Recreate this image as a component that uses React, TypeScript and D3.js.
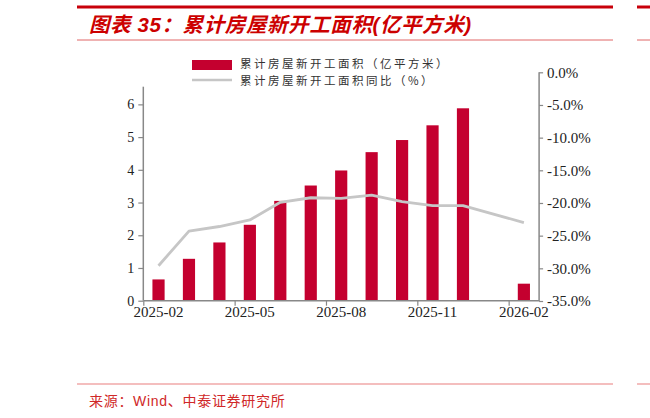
import { useEffect, useRef } from 'react';
import * as d3 from 'd3';

// ─── Data ───────────────────────────────────────────────────

const months = [
  '2025-02', '2025-03', '2025-04', '2025-05', '2025-06', '2025-07', '2025-08',
  '2025-09', '2025-10', '2025-11', '2025-12', '2026-01', '2026-02',
];
// 累计房屋新开工面积（亿平方米）
const areaValues: (number | null)[] = [0.65, 1.28, 1.78, 2.32, 3.05, 3.52, 3.98, 4.54, 4.91, 5.36, 5.88, null, 0.52];
// 累计房屋新开工面积同比（%）
const yoyValues: (number | null)[] = [-29.6, -24.3, -23.6, -22.6, -19.9, -19.2, -19.3, -18.8, -19.8, -20.4, -20.4, null, -23.0];

const leftTicks = [0, 1, 2, 3, 4, 5, 6];
const rightTicks = [0, -5, -10, -15, -20, -25, -30, -35];
const xTickMonths = ['2025-02', '2025-05', '2025-08', '2025-11', '2026-02'];

const TITLE = '图表 35：累计房屋新开工面积(亿平方米)';
const LEGEND_BAR = '累计房屋新开工面积（亿平方米）';
const LEGEND_LINE = '累计房屋新开工面积同比（%）';
const SOURCE = '来源：Wind、中泰证券研究所';

// ─── Component ──────────────────────────────────────────────

const W = 650;
const H = 418;
const RED = '#c4002f';
const GRAY_LINE = '#c6c6c6';
const AXIS = '#888888';
const SERIF = '"Liberation Serif", "Times New Roman", serif';
const CJK = '"Noto Sans CJK SC", sans-serif';

export default function App() {
  const svgRef = useRef<SVGSVGElement>(null);

  useEffect(() => {
    if (!svgRef.current) return;
    const svg = d3.select(svgRef.current);
    svg.selectAll('*').remove();

    const plot = { left: 143.3, right: 539.1, bottom: 300.7 };

    // Scales
    const x = d3.scaleBand<string>()
      .domain(months)
      .range([plot.left, plot.right])
      .paddingInner(0.6)
      .paddingOuter(0.3);
    const xEdge = d3.scaleLinear().domain([0, months.length]).range([plot.left, plot.right]);
    const yL = d3.scaleLinear().domain([0, 6.54]).range([plot.bottom, 86.7]);
    const yR = d3.scaleLinear().domain([-35, 0]).range([301, 72.3]);

    // Header / footer rules (incl. the clipped edge of the next panel)
    const rules = [
      { x1: 77, x2: 613, y: 7, c: '#c8000a', w: 3 },
      { x1: 77, x2: 613, y: 40, c: '#e06666', w: 1 },
      { x1: 637, x2: W, y: 7, c: '#c8000a', w: 3 },
      { x1: 637, x2: W, y: 40, c: '#e06666', w: 1 },
      { x1: 77, x2: 613, y: 384, c: '#f0a8a8', w: 1.5 },
      { x1: 637, x2: W, y: 384, c: '#f0a8a8', w: 1.5 },
    ];
    rules.forEach((r) => {
      svg.append('line').attr('x1', r.x1).attr('x2', r.x2).attr('y1', r.y).attr('y2', r.y)
        .attr('stroke', r.c).attr('stroke-width', r.w);
    });

    // Title
    svg.append('text')
      .attr('x', 89).attr('y', 31.5)
      .style('font-family', `"Liberation Sans", ${CJK}`)
      .style('font-size', '20.5px').style('font-weight', 700).style('font-style', 'italic')
      .style('letter-spacing', '0.6px')
      .style('fill', '#cc0000')
      .text(TITLE);

    // Source
    svg.append('text')
      .attr('x', 89).attr('y', 405.5)
      .style('font-family', `"Liberation Sans", ${CJK}`)
      .style('font-size', '14px')
      .style('letter-spacing', '0.7px')
      .style('fill', '#d02828')
      .text(SOURCE);

    // Legend
    svg.append('rect').attr('x', 192).attr('y', 60).attr('width', 40).attr('height', 10).attr('fill', RED);
    svg.append('line').attr('x1', 192).attr('x2', 232).attr('y1', 80).attr('y2', 80)
      .attr('stroke', GRAY_LINE).attr('stroke-width', 2.5);
    [LEGEND_BAR, LEGEND_LINE].forEach((t, i) => {
      svg.append('text')
        .attr('x', 240).attr('y', 64 + i * 17).attr('dy', '0.36em')
        .style('font-family', CJK).style('font-size', '11.5px').style('fill', '#333')
        .style('letter-spacing', '2.5px')
        .text(t);
    });

    // Left axis
    const gL = svg.append('g').attr('transform', `translate(${plot.left},0)`)
      .call(d3.axisLeft(yL).tickValues(leftTicks).tickSize(5).tickPadding(4).tickFormat(d3.format('d')));
    gL.select('.domain').attr('stroke', AXIS).attr('stroke-width', 1.5).attr('d', `M0,${yL(6.54)}V${plot.bottom}`);
    gL.selectAll('.tick line').attr('stroke', AXIS).attr('stroke-width', 1.2);
    gL.selectAll('.tick text').style('font-family', SERIF).style('font-size', '14px').style('fill', '#222');

    // Right axis
    const gR = svg.append('g').attr('transform', `translate(${plot.right},0)`)
      .call(d3.axisRight(yR).tickValues(rightTicks).tickSize(4).tickPadding(4)
        .tickFormat((d) => `${(d as number).toFixed(1)}%`));
    gR.select('.domain').attr('stroke', AXIS).attr('stroke-width', 1.5).attr('d', `M0,${yR(0)}V${yR(-35)}`);
    gR.selectAll('.tick line').attr('stroke', AXIS).attr('stroke-width', 1.2);
    gR.selectAll('.tick text').style('font-family', SERIF).style('font-size', '15px').style('fill', '#222');

    // Bars
    svg.append('g').selectAll('rect')
      .data(months.map((m, i) => ({ m, v: areaValues[i] })).filter((d) => d.v !== null))
      .join('rect')
      .attr('x', (d) => x(d.m)!)
      .attr('width', x.bandwidth())
      .attr('y', (d) => yL(d.v as number))
      .attr('height', (d) => plot.bottom - yL(d.v as number))
      .attr('fill', RED);

    // Bottom axis (ticks at band edges, labels at band centres)
    const tickIdx = xTickMonths.map((m) => months.indexOf(m));
    const gB = svg.append('g').attr('transform', `translate(0,${plot.bottom})`)
      .call(d3.axisBottom(xEdge).tickValues(tickIdx).tickSize(5).tickFormat(() => ''));
    gB.select('.domain').attr('stroke', AXIS).attr('stroke-width', 1.5).attr('d', `M${plot.left},0H${plot.right}`);
    gB.selectAll('.tick line').attr('stroke', AXIS).attr('stroke-width', 1.2);
    svg.append('g').selectAll('text')
      .data(xTickMonths)
      .join('text')
      .attr('x', (m) => x(m)! + x.bandwidth() / 2)
      .attr('y', 316.5)
      .attr('text-anchor', 'middle')
      .style('font-family', SERIF).style('font-size', '15px').style('fill', '#222')
      .text((m) => m);

    // YoY line (null months skipped, line joins across)
    const pts = months.map((m, i) => ({ m, v: yoyValues[i] })).filter((d) => d.v !== null);
    const line = d3.line<{ m: string; v: number | null }>()
      .x((d) => x(d.m)! + x.bandwidth() / 2)
      .y((d) => yR(d.v as number));
    svg.append('path')
      .datum(pts)
      .attr('fill', 'none')
      .attr('stroke', GRAY_LINE)
      .attr('stroke-width', 2.8)
      .attr('stroke-linejoin', 'round')
      .attr('d', line);
  }, []);

  return (
    <div style={{ position: 'absolute', left: 0, top: 0, width: W, height: H, background: '#fff' }}>
      <svg ref={svgRef} width={W} height={H} />
    </div>
  );
}
